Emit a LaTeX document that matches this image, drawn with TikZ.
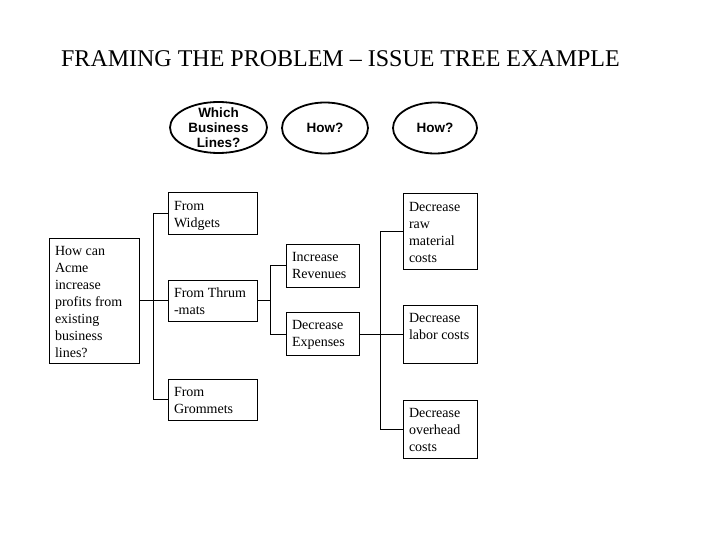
\documentclass[tikz,border=0pt]{standalone}
\usepackage{fontspec}
\setmainfont{Liberation Serif}
\newfontfamily\arialb{Liberation Sans}
\usetikzlibrary{shapes.geometric}
\newcommand\bx[3]{\parbox[c][\dimexpr#2pt-11pt\relax][t]{\dimexpr#1pt-12pt\relax}{\raggedright\strut#3}}
\begin{document}
\begin{tikzpicture}[x=1pt,y=-1pt,
  box/.style={draw, line width=1pt, inner xsep=6pt, inner ysep=5.5pt, font=\fontsize{14}{17}\selectfont},
  qell/.style={draw, ellipse, line width=1.8pt, inner sep=0pt, minimum height=51pt},
  etxt/.style={font=\arialb\bfseries\fontsize{13.5}{15}\selectfont, align=center},
  conn/.style={line width=1pt}]
\useasboundingbox (0,0) rectangle (720,540);
% title
\node[font=\fontsize{24}{28}\selectfont, anchor=base, inner sep=0pt] (title) at (340.5,67) {FRAMING THE PROBLEM – ISSUE TREE EXAMPLE};
% header ellipses
\node[qell, minimum width=97pt, label={[etxt]center:Which\\Business\\Lines?}] (q1) at (218.5,127.5) {};
\node[qell, minimum width=86pt, label={[etxt]center:How?}] (q2) at (325,128) {};
\node[qell, minimum width=84pt, label={[etxt]center:How?}] (q3) at (435,128) {};
% boxes
\node[box] (root) at (94,300.5) {\bx{90}{125}{How can\\Acme\\increase\\profits from\\existing\\business\\lines?}};
\node[box] (widgets) at (212.5,213.5) {\bx{89}{41}{From\\Widgets}};
\node[box] (thrum) at (212.5,300.5) {\bx{89}{41}{From Thrum\\-mats}};
\node[box] (grommets) at (212.5,399.5) {\bx{89}{41}{From\\Grommets}};
\node[box] (revenues) at (322.5,265.5) {\bx{73}{43}{Increase\\Revenues}};
\node[box] (expenses) at (322.5,334) {\bx{73}{43}{Decrease\\Expenses}};
\node[box] (raw) at (440,231.5) {\bx{74}{75}{Decrease\\raw\\material\\costs}};
\node[box] (labor) at (440,334) {\bx{74}{58}{Decrease\\labor costs}};
\node[box] (overhead) at (440,429) {\bx{74}{58}{Decrease\\overhead\\costs}};
% connectors
\coordinate (j1) at (154,300.5);
\draw[conn] (root.east) -- (j1);
\draw[conn] (j1) -- (thrum.west);
\draw[conn] (widgets.west) -- ++(-14,0) |- (grommets.west);
\coordinate (j2) at (271,300.5);
\draw[conn] (thrum.east) -- (j2);
\draw[conn] (revenues.west) -- ++(-15,0) |- (expenses.west);
\draw[conn] (expenses.east) -- (labor.west);
\draw[conn] (raw.west) -- ++(-22,0) |- (overhead.west);
\end{tikzpicture}
\end{document}
